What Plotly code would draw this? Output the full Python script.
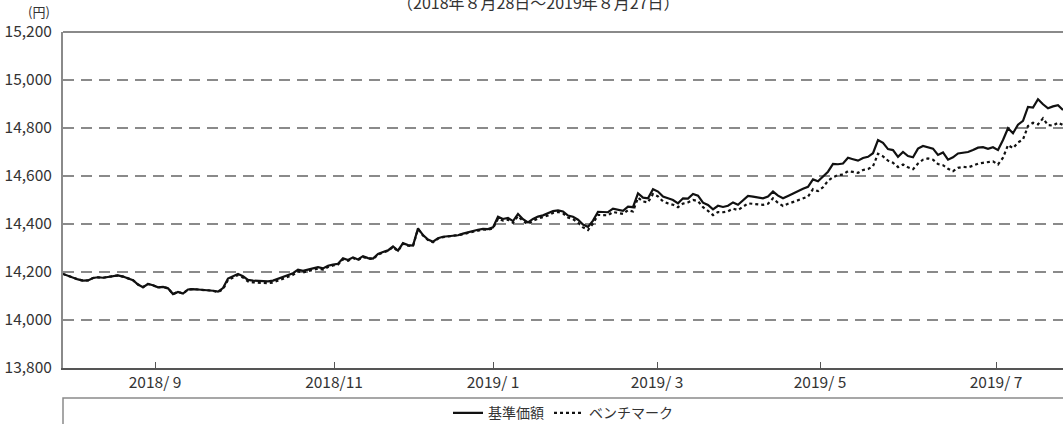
import plotly.graph_objects as go

# Trading-day samples (index axis), values in yen
nav_values = [
    14192, 14184, 14174, 14169, 14164, 14165, 14175, 14178, 14176, 14180,
    14185, 14186, 14181, 14174, 14166, 14148, 14137, 14150, 14145, 14136,
    14138, 14132, 14108, 14117, 14110, 14127, 14129, 14127, 14126, 14124,
    14122, 14118, 14133, 14173, 14182, 14192, 14182, 14167, 14164, 14162,
    14162, 14161, 14164, 14172, 14180, 14189, 14195, 14210, 14205, 14210,
    14216, 14220, 14215, 14226, 14231, 14234, 14257, 14250, 14261, 14252,
    14266, 14258, 14256, 14275, 14283, 14290, 14307, 14289, 14320, 14312,
    14310, 14382, 14354, 14335, 14326, 14341, 14347, 14350, 14351, 14353,
    14360, 14366, 14370, 14376, 14380, 14379, 14386, 14430, 14421, 14425,
    14412, 14442, 14420, 14407, 14421, 14431, 14436, 14444, 14454, 14457,
    14452, 14435, 14430, 14418, 14398, 14388, 14414, 14451, 14450, 14449,
    14464, 14460, 14455, 14472, 14470, 14528, 14510, 14507, 14545, 14535,
    14514, 14507, 14500, 14486, 14507, 14506, 14525, 14518, 14489, 14479,
    14461, 14476, 14471, 14476, 14490, 14480, 14500, 14517, 14514, 14512,
    14507, 14514, 14535, 14518, 14507, 14517, 14528, 14539, 14547, 14555,
    14586, 14578, 14598, 14618, 14650, 14649, 14652, 14676, 14670, 14664,
    14675, 14680, 14695, 14750, 14738, 14712, 14708, 14680, 14700, 14683,
    14678, 14714, 14725, 14718, 14714, 14688, 14698, 14668, 14678, 14694,
    14697, 14700, 14708, 14718, 14720, 14713, 14720, 14708, 14750, 14799,
    14778, 14814, 14830, 14888, 14885, 14920, 14899, 14882, 14890, 14895,
    14875,
]

bm_values = [
    14192, 14184, 14174, 14169, 14164, 14165, 14175, 14178, 14176, 14180,
    14185, 14186, 14181, 14174, 14166, 14148, 14137, 14150, 14145, 14136,
    14138, 14132, 14108, 14117, 14110, 14127, 14129, 14127, 14126, 14124,
    14122, 14116, 14128, 14167, 14177, 14187, 14177, 14161, 14157, 14155,
    14154, 14153, 14156, 14164, 14172, 14182, 14188, 14202, 14198, 14204,
    14210, 14214, 14210, 14221, 14227, 14231, 14253, 14247, 14258, 14249,
    14263, 14256, 14254, 14272, 14281, 14288, 14304, 14287, 14318, 14310,
    14308, 14379, 14352, 14333, 14324, 14339, 14345, 14348, 14349, 14351,
    14357, 14363, 14367, 14373, 14377, 14376, 14382, 14422, 14414, 14418,
    14405, 14433, 14412, 14400, 14413, 14422, 14428, 14436, 14446, 14450,
    14444, 14427, 14420, 14405, 14386, 14375, 14402, 14438, 14437, 14436,
    14450, 14447, 14442, 14458, 14452, 14510, 14494, 14490, 14525, 14515,
    14494, 14486, 14480, 14470, 14485, 14490, 14500, 14495, 14470, 14455,
    14437, 14450, 14449, 14453, 14464, 14458, 14472, 14486, 14484, 14482,
    14480, 14484, 14507, 14488, 14475, 14484, 14492, 14500, 14507, 14514,
    14545, 14537, 14553, 14580, 14595, 14604, 14606, 14620, 14617, 14613,
    14625, 14629, 14640, 14693, 14682, 14664, 14655, 14637, 14648, 14636,
    14628, 14652, 14668, 14673, 14668, 14650, 14645, 14630, 14620, 14634,
    14638, 14636, 14643, 14651, 14655, 14659, 14661, 14648, 14676, 14729,
    14716, 14740, 14752, 14808, 14822, 14815, 14840, 14812, 14810, 14822,
    14812,
]

tick_pos = [18.4, 54.2, 86.0, 118.8, 151.4, 186.6]
tick_labels = ["2018/ 9", "2018/11", "2019/ 1", "2019/ 3", "2019/ 5", "2019/ 7"]
y_ticks = [13800, 14000, 14200, 14400, 14600, 14800, 15000, 15200]

series_names = ["基準価額", "ベンチマーク"]
title_text = "（2018年８月28日～2019年８月27日）"

x = list(range(len(nav_values)))

FONT = "Noto Sans CJK JP"
TXT = "#333333"

fig = go.Figure()
fig.add_trace(go.Scatter(
    x=x, y=nav_values, mode="lines", name=series_names[0],
    line=dict(color="#111111", width=2.2),
))
fig.add_trace(go.Scatter(
    x=x, y=bm_values, mode="lines", name=series_names[1],
    line=dict(color="#111111", width=2.2, dash="dot"),
))

fig.update_layout(
    width=1063, height=424,
    margin=dict(l=63, r=0, t=32, b=56, autoexpand=False),
    paper_bgcolor="white", plot_bgcolor="white",
    font=dict(family=FONT, color=TXT, size=14),
    showlegend=True,
    legend=dict(
        orientation="h", x=0.5, xanchor="center", y=-0.135, yanchor="middle",
        font=dict(size=14, family=FONT, color=TXT), bgcolor="rgba(0,0,0,0)",
        traceorder="normal",
    ),
    xaxis=dict(
        range=[0, len(nav_values) - 1],
        tickmode="array", tickvals=tick_pos, ticktext=tick_labels,
        ticks="inside", ticklen=6, tickwidth=1.2, tickcolor="#555555",
        showgrid=False, zeroline=False,
        showline=True, linecolor="#555555", linewidth=1.5,
        tickfont=dict(size=15.5, family=FONT, color=TXT),
    ),
    yaxis=dict(
        range=[13800, 15200],
        tickmode="array", tickvals=y_ticks,
        tickformat=",d",
        ticks="", showgrid=True, gridcolor="#8a8a8a", gridwidth=1.5,
        griddash="11px,7px",
        zeroline=False,
        showline=True, linecolor="#8a8a8a", linewidth=2,
        tickfont=dict(size=15.5, family=FONT, color=TXT),
        ticklabelstandoff=6,
    ),
)

# Top frame line (solid) over 15,200
fig.add_shape(type="line", xref="paper", yref="paper", x0=0, x1=1, y0=1, y1=1,
              line=dict(color="#8a8a8a", width=2))
# Legend frame box below the axis
fig.add_shape(type="rect", xref="paper", yref="paper", x0=0, x1=1.01,
              y0=-0.4, y1=-0.089, line=dict(color="#8a8a8a", width=1.5),
              fillcolor="rgba(0,0,0,0)")

# Unit label
fig.add_annotation(text="(円)", xref="paper", yref="paper", x=-0.024, y=1.062,
                   xanchor="center", yanchor="middle", showarrow=False,
                   font=dict(size=13, family=FONT, color=TXT))
# Period title (partly cut by the top edge)
fig.add_annotation(text=title_text, xref="paper", yref="paper", x=0.475, y=1.088,
                   xanchor="center", yanchor="middle", showarrow=False,
                   font=dict(size=16, family=FONT, color=TXT))

fig.write_html(
    "out.html",
    config={"displayModeBar": False},
    post_script="document.body.style.margin='0px';document.body.style.overflow='hidden';",
)
